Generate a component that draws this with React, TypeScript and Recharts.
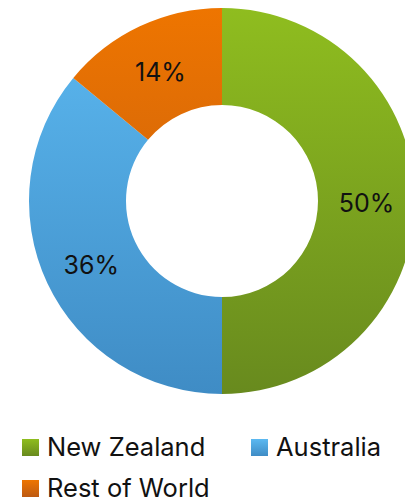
import { PieChart, Pie, Cell, Legend } from 'recharts';

const regions = ['New Zealand', 'Australia', 'Rest of World'];
const shares = [50, 36, 14];
const topColors = ['#8fbd1f', '#5cb9f1', '#ee7500'];
const bottomColors = ['#688a1e', '#3f8cc5', '#bd5a12'];

const data = regions.map((name, i) => ({ name, value: shares[i] }));

const RADIAN = Math.PI / 180;

function renderLabel(props: any) {
  const { cx, cy, midAngle, innerRadius, outerRadius, value } = props;
  const r = (innerRadius + outerRadius) / 2;
  const x = cx + r * Math.cos(-midAngle * RADIAN);
  const y = cy + r * Math.sin(-midAngle * RADIAN);
  return (
    <text x={x} y={y + 2} fill="#111" fontSize={25} fontFamily="Inter, 'Noto Sans', sans-serif" textAnchor="middle" dominantBaseline="central">
      {value}%
    </text>
  );
}

function LegendContent() {
  return (
    <div style={{ display: 'grid', gridTemplateColumns: '229px 150px', rowGap: 15, paddingLeft: 22, fontFamily: "Inter, 'Noto Sans', sans-serif", fontSize: 25.5, lineHeight: '26px', color: '#111' }}>
      {regions.map((name, i) => (
        <div key={name} style={{ display: 'flex', alignItems: 'center', height: 26 }}>
          <span style={{ width: 17, height: 17, marginRight: 8, background: `linear-gradient(${topColors[i]}, ${bottomColors[i]})`, display: 'inline-block' }} />
          <span>{name}</span>
        </div>
      ))}
    </div>
  );
}

export default function App() {
  return (
    <div style={{ position: 'absolute', top: 0, left: 0, background: '#fff' }}>
      <PieChart width={405} height={502} margin={{ top: 0, right: 0, bottom: 0, left: 0 }}>
        <defs>
          {regions.map((name, i) => (
            <linearGradient key={name} id={`grad${i}`} x1="0" y1="8" x2="0" y2="394" gradientUnits="userSpaceOnUse">
              <stop offset="0%" stopColor={topColors[i]} />
              <stop offset="100%" stopColor={bottomColors[i]} />
            </linearGradient>
          ))}
        </defs>
        <Pie
          data={data}
          dataKey="value"
          nameKey="name"
          cx={222}
          cy={201}
          innerRadius={96}
          outerRadius={193}
          startAngle={90}
          endAngle={-270}
          stroke="none"
          label={renderLabel}
          labelLine={false}
          isAnimationActive={false}
        >
          {data.map((d, i) => (
            <Cell key={d.name} fill={`url(#grad${i})`} />
          ))}
        </Pie>
        <Legend content={<LegendContent />} wrapperStyle={{ position: 'absolute', top: 434, left: 0, width: 405 }} />
      </PieChart>
    </div>
  );
}
